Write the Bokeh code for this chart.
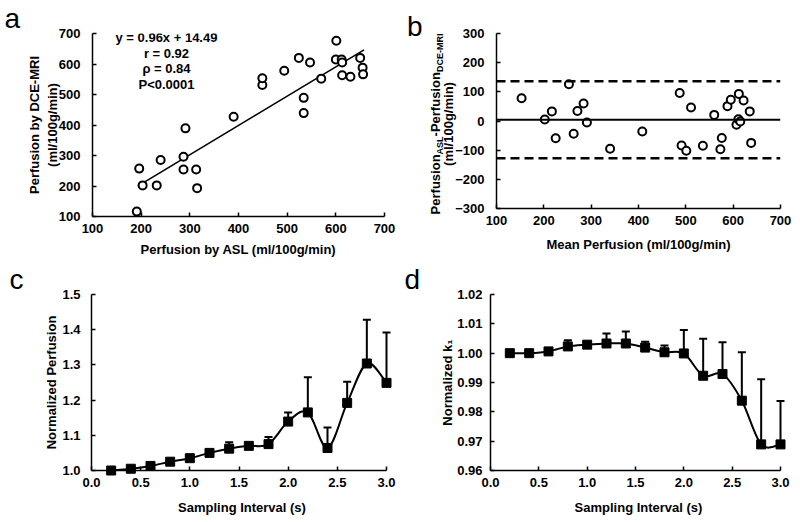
import numpy as np
from bokeh.plotting import figure
from bokeh.layouts import column, row
from bokeh.models import (Label, Whisker, TeeHead, ColumnDataSource, FixedTicker,
                          PrintfTickFormatter, Span, Range1d, Div)
from bokeh.embed import file_html
from bokeh.resources import INLINE

FONT = "Liberation Sans"

# ---------------- data ----------------
# panel a: perfusion ASL vs DCE-MRI
asl_perf = [191, 196, 203, 232, 240, 287, 287, 291, 313, 315, 390, 449, 449, 494,
            524, 547, 534, 534, 570, 601, 600, 612, 613, 613, 630, 650, 655, 656]
dce_perf = [116, 257, 202, 202, 285, 296, 254, 389, 254, 193, 427, 531, 553, 578,
            620, 605, 489, 439, 552, 676, 615, 615, 605, 563, 558, 620, 588, 566]
fit_slope = 0.96
fit_intercept = 14.49
fit_x_range = [193, 658]
stats_lines = ["y = 0.96x + 14.49", "r = 0.92", "\u03c1 = 0.84", "P<0.0001"]

# panel b: Bland-Altman
ba_mean = [153, 202, 217, 225, 253, 263, 271, 284, 291, 340, 408, 487, 491, 501,
           511, 536, 560, 573, 576, 588, 595, 607, 611, 612, 615, 622, 635, 638]
ba_diff = [78, 5, 33, -59, 126, -44, 34, 60, -5, -95, -36, 96, -84, -102,
           46, -85, 21, -97, -58, 51, 73, -13, 6, 93, -2, 70, 33, -75]
ba_bias = 4
ba_upper = 136
ba_lower = -128

# panels c, d: sampling interval
interval = [0.2, 0.4, 0.6, 0.8, 1.0, 1.2, 1.4, 1.6, 1.8, 2.0, 2.2, 2.4, 2.6, 2.8, 3.0]
norm_perf = [1.000, 1.005, 1.013, 1.025, 1.035, 1.050, 1.062, 1.070, 1.075, 1.139,
             1.165, 1.064, 1.192, 1.304, 1.249]
norm_perf_err = [0.000, 0.002, 0.003, 0.003, 0.004, 0.005, 0.018, 0.004, 0.020, 0.026,
                 0.100, 0.058, 0.060, 0.124, 0.143]
norm_k1 = [1.0000, 1.0000, 1.0006, 1.0023, 1.0029, 1.0033, 1.0033, 1.0019, 1.0003, 0.9999,
           0.9923, 0.9929, 0.9838, 0.9689, 0.9689]
norm_k1_err = [0.0000, 0.0001, 0.0005, 0.0021, 0.0006, 0.0034, 0.0041, 0.0020, 0.0023, 0.0080,
               0.0126, 0.0108, 0.0165, 0.0222, 0.0148]


# ---------------- helpers ----------------
def make_fig(xr, yr, w, h, left, right, top, bottom):
    p = figure(width=w, height=h, x_range=Range1d(*xr), y_range=Range1d(*yr),
               output_backend="svg", toolbar_location=None,
               min_border_left=left, min_border_right=right,
               min_border_top=top, min_border_bottom=bottom)
    p.outline_line_color = None
    p.grid.visible = False
    p.background_fill_color = "white"
    p.border_fill_color = None
    for ax in (p.xaxis[0], p.yaxis[0]):
        ax.axis_line_width = 1.5
        ax.axis_line_color = "black"
        ax.major_tick_in = 4
        ax.major_tick_out = 0
        ax.major_tick_line_width = 1.5
        ax.major_tick_line_color = "black"
        ax.minor_tick_line_color = None
        ax.major_label_text_font = FONT
        ax.major_label_text_font_style = "bold"
        ax.major_label_text_font_size = "13px"
        ax.major_label_text_color = "black"
        ax.axis_label_text_font = FONT
        ax.axis_label_text_font_style = "bold"
        ax.axis_label_text_font_size = "13px"
        ax.axis_label_text_color = "black"
    p.xaxis.major_label_standoff = 7
    p.yaxis.major_label_standoff = 12
    return p


def panel_letter(p, letter, offset):
    p.title.text = letter
    p.title.align = "left"
    p.title.offset = offset
    p.title.standoff = 0
    p.title.text_font = FONT
    p.title.text_font_size = "28px"
    p.title.text_font_style = "normal"
    p.title.text_color = "black"


def smooth_curve(p, xs, ys):
    x = np.asarray(xs, float)
    y = np.asarray(ys, float)
    n = len(x)
    xp = np.concatenate([[x[0]], x, [x[-1]]])
    yp = np.concatenate([[y[0]], y, [y[-1]]])
    cx0 = x[:-1] + (xp[2:n + 1] - xp[0:n - 1]) / 6.0
    cy0 = y[:-1] + (yp[2:n + 1] - yp[0:n - 1]) / 6.0
    cx1 = x[1:] - (xp[3:n + 2] - xp[1:n]) / 6.0
    cy1 = y[1:] - (yp[3:n + 2] - yp[1:n]) / 6.0
    p.bezier(x0=x[:-1], y0=y[:-1], x1=x[1:], y1=y[1:], cx0=cx0, cy0=cy0, cx1=cx1, cy1=cy1,
             line_color="black", line_width=2, line_cap="round")


def err_panel(p, xs, ys, errs):
    up = [a + b for a, b in zip(ys, errs)]
    src = ColumnDataSource(dict(x=xs, y=ys, up=up))
    smooth_curve(p, xs, ys)
    w = Whisker(source=src, base="x", lower="y", upper="up",
                line_color="black", line_width=2,
                upper_head=TeeHead(size=8, line_color="black", line_width=2),
                lower_head=None)
    p.add_layout(w)
    p.scatter("x", "y", source=src, marker="square", size=9,
              fill_color="black", line_color="black", level="overlay")


# ---------------- panel a ----------------
pa = make_fig((100, 700), (100, 700), 400, 261, 92, 16, 33, 45)
pa.xaxis.ticker = FixedTicker(ticks=list(range(100, 701, 100)))
pa.yaxis.ticker = FixedTicker(ticks=list(range(100, 701, 100)))
pa.xaxis.axis_label = "Perfusion by ASL (ml/100g/min)"
pa.yaxis.axis_label = "Perfusion by DCE-MRI\n(ml/100g/min)"
pa.xaxis.axis_label_standoff = 6
pa.yaxis.axis_label_standoff = -4
fx = np.array(fit_x_range, float)
pa.line(fx, fit_slope * fx + fit_intercept, line_color="black", line_width=1.6)
pa.scatter(asl_perf, dce_perf, marker="circle", size=8, fill_color="white",
           line_color="black", line_width=2)
for i, t in enumerate(stats_lines):
    pa.add_layout(Label(x=252, y=179 - i * 15.6, x_units="data", y_units="screen", text=t,
                        text_font=FONT, text_font_style="bold",
                        text_font_size="13px", text_align="center", text_baseline="middle",
                        text_color="black"))
panel_letter(pa, "a", -88)

# ---------------- panel b ----------------
pb = make_fig((100, 700), (-300, 300), 348, 261, 37, 20, 33, 53)
pb.xaxis.ticker = FixedTicker(ticks=list(range(100, 701, 100)))
pb.yaxis.ticker = FixedTicker(ticks=list(range(-300, 301, 100)))
pb.xaxis.axis_label = "Mean Perfusion (ml/100g/min)"
pb.xaxis.axis_label_standoff = 9
pb.add_layout(Span(location=ba_bias, dimension="width", line_color="black", line_width=2))
for loc in (ba_upper, ba_lower):
    pb.add_layout(Span(location=loc, dimension="width", line_color="black",
                       line_width=2.5, line_dash="9 5"))
pb.scatter(ba_mean, ba_diff, marker="circle", size=8, fill_color="white",
           line_color="black", line_width=2)

# y-axis title of panel b (with subscripts) and the panel letter, as an HTML block
sub = "position:relative; top:3px; font-size:9px;"
b_ylabel = Div(
    width=52, height=230, margin=0, styles={"overflow": "visible"},
    text=(
        '<div style="position:relative; width:52px; height:0px; overflow:visible;">'
        f'<div style="position:absolute; left:7px; top:1px; font-family:\'{FONT}\'; '
        'font-size:28px; line-height:28px; color:black;">b</div>'
        '<div style="position:absolute; left:42px; top:112px; '
        'transform: translate(-50%, -50%) rotate(-90deg); white-space:nowrap; '
        f"font-family:'{FONT}'; font-weight:bold; font-size:13px; line-height:12px; "
        'text-align:center; color:black;">'
        f'Perfusion<span style="{sub}">ASL</span>-Perfusion<span style="{sub}">DCE-MRI</span>'
        '<br>(ml/100g/min)</div></div>'
    ),
)

# ---------------- panel c ----------------
# the frame runs 6 px past x = 3.0 so the last error bar is not clipped
pc = make_fig((0, 3.0 + 3.0 * 6 / 295), (1.0, 1.5), 400, 261, 91, 8, 31, 52)
pc.xaxis.ticker = FixedTicker(ticks=[0.0, 0.5, 1.0, 1.5, 2.0, 2.5, 3.0])
pc.xaxis.bounds = (0, 3.0)
pc.yaxis.ticker = FixedTicker(ticks=[1.0, 1.1, 1.2, 1.3, 1.4, 1.5])
pc.xaxis.formatter = PrintfTickFormatter(format="%.1f")
pc.yaxis.formatter = PrintfTickFormatter(format="%.1f")
pc.xaxis.axis_label = "Sampling Interval (s)"
pc.yaxis.axis_label = "Normalized Perfusion"
pc.xaxis.axis_label_standoff = 10
pc.yaxis.axis_label_standoff = 0
pc.yaxis.major_label_standoff = 11
err_panel(pc, interval, norm_perf, norm_perf_err)
panel_letter(pc, "c", -82)

# ---------------- panel d ----------------
pd_ = make_fig((0, 3.0 + 3.0 * 6 / 290), (0.96, 1.02), 400, 261, 90, 14, 31, 52)
pd_.xaxis.ticker = FixedTicker(ticks=[0.0, 0.5, 1.0, 1.5, 2.0, 2.5, 3.0])
pd_.xaxis.bounds = (0, 3.0)
pd_.yaxis.ticker = FixedTicker(ticks=[0.96, 0.97, 0.98, 0.99, 1.00, 1.01, 1.02])
pd_.xaxis.formatter = PrintfTickFormatter(format="%.1f")
pd_.yaxis.formatter = PrintfTickFormatter(format="%.2f")
pd_.yaxis.major_label_standoff = 8
pd_.xaxis.axis_label = "Sampling Interval (s)"
pd_.yaxis.axis_label = "Normalized k\u2081"
pd_.xaxis.axis_label_standoff = 10
pd_.yaxis.axis_label_standoff = -1
err_panel(pd_, interval, norm_k1, norm_k1_err)
panel_letter(pd_, "d", -86)

layout = column(row(pa, row(b_ylabel, pb, spacing=0), spacing=0),
                row(pc, pd_, spacing=0), spacing=0)

open("out.html", "w").write(file_html(layout, INLINE))
